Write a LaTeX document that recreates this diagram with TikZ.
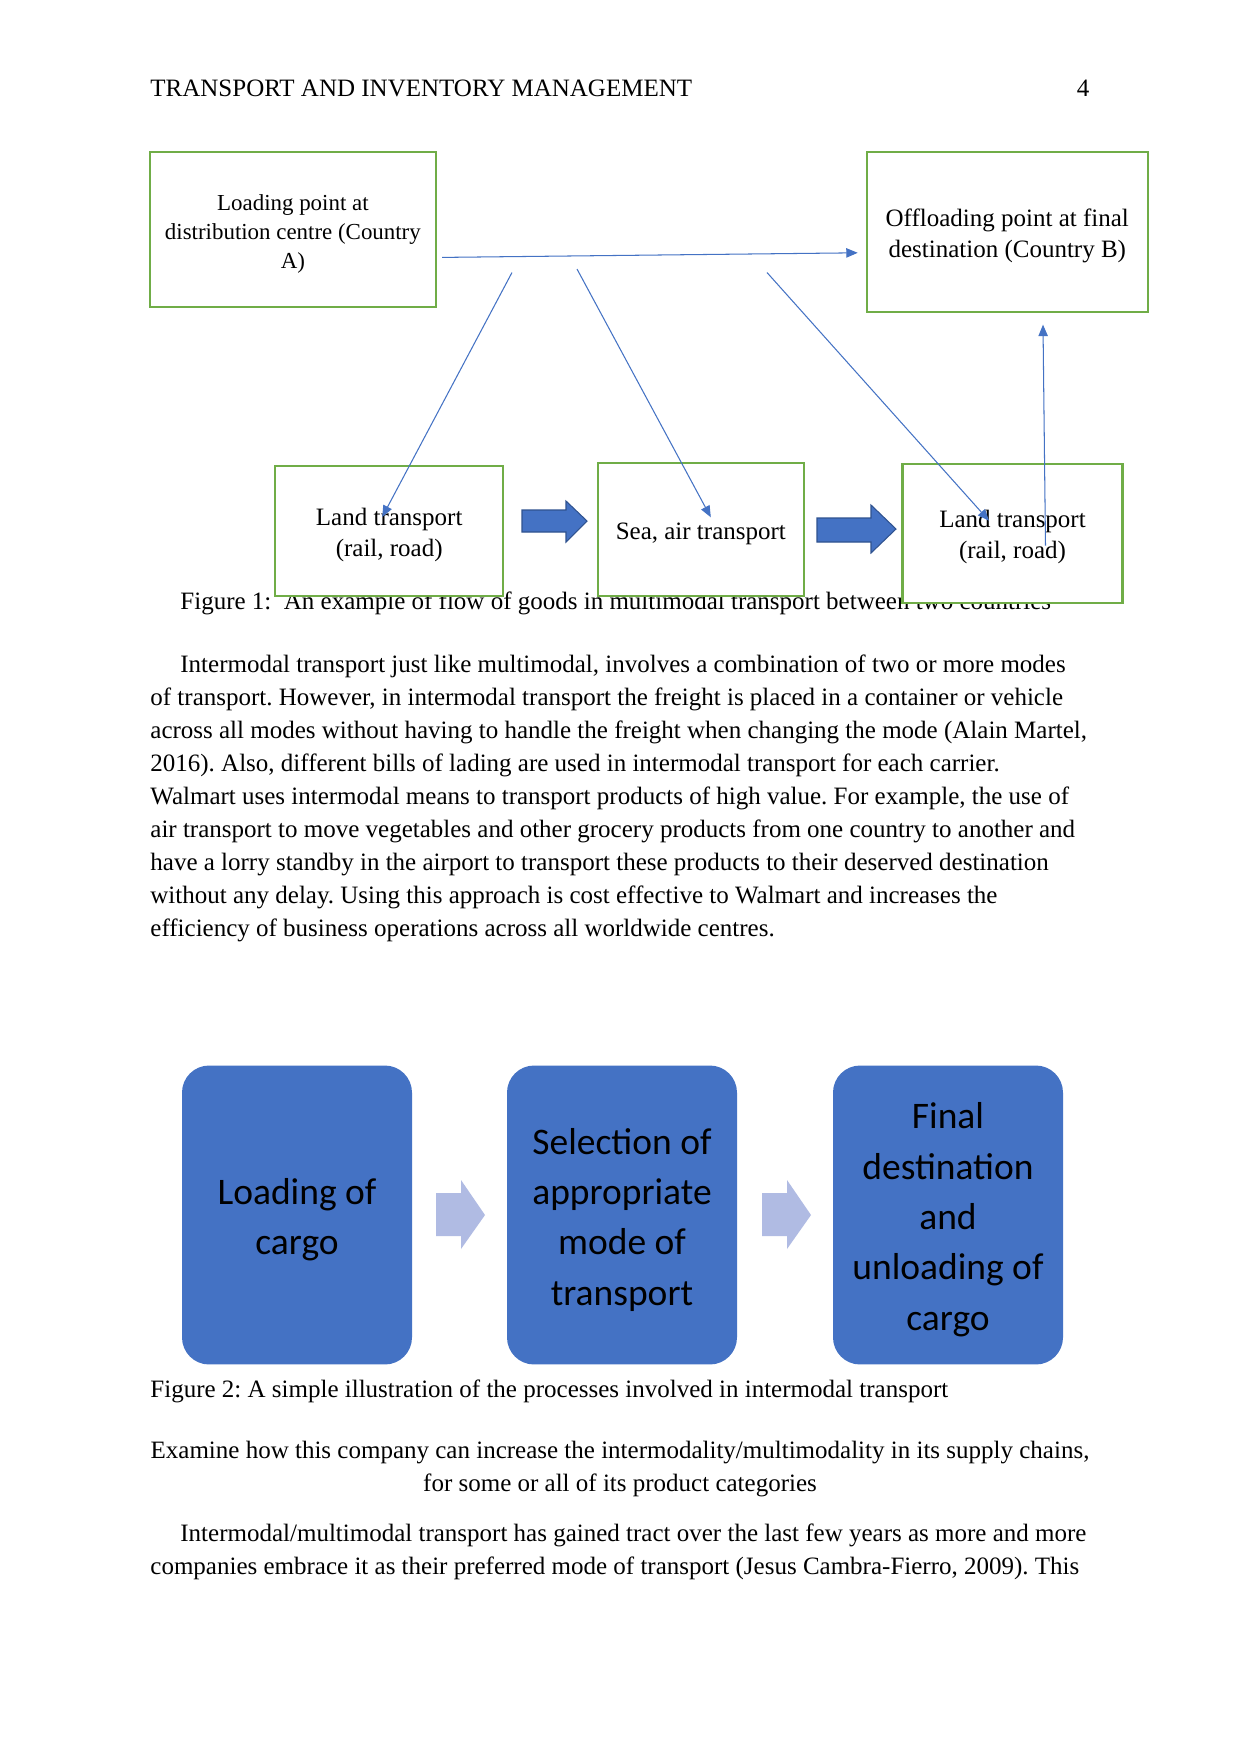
\documentclass[tikz,border=0pt]{standalone}
\usepackage{fontspec}
\setmainfont{Liberation Serif}
\newfontfamily\calibrifont{Carlito}
\usetikzlibrary{arrows.meta,calc}
\definecolor{accent}{HTML}{4472C4}
\definecolor{accentdark}{HTML}{2F528F}
\definecolor{leaf}{HTML}{70AD47}
\definecolor{haze}{HTML}{B0BBE3}
\frenchspacing
\newcommand{\boxlift}{\rule{0pt}{12pt}}
\newcommand{\steplift}{\rule{0pt}{17pt}}

\tikzset{
  greenbox/.style={draw=leaf,line width=1pt,fill=white,align=center,inner sep=2pt,font=\fontsize{12}{15}\selectfont},
  flowline/.style={draw=accent,line width=0.5pt,-{Triangle[length=5.5pt,width=4.5pt]}},
  bluestep/.style={fill=accent,rounded corners=13pt,align=center,inner sep=0pt,minimum width=110.4pt,minimum height=143.5pt,font=\calibrifont\fontsize{18}{24.2}\selectfont},
  bodytext/.style={inner sep=0pt,font=\fontsize{12}{15.84}\selectfont},
}

\begin{document}
\begin{tikzpicture}[x=0.48pt,y=-0.48pt]
\useasboundingbox[fill=white] (0,0) rectangle (1241,1754);

% running head
\node[bodytext,anchor=base west] (header) at (150,96) {TRANSPORT AND INVENTORY MANAGEMENT};
\node[bodytext,anchor=base] (pagenum) at (1083,96) {4};

% caption of figure 1 (partly hidden by the boxes)
\node[bodytext,anchor=base west] (cap1) at (180,609) {Figure 1:\ \ An example of flow of goods in multimodal transport between two countries};

% figure 1
\node[greenbox,minimum width=137.4pt,minimum height=74.5pt,font=\fontsize{11}{13.7}\selectfont] (loadA) at (292.9,229.4) {\boxlift Loading point at\\distribution centre (Country\\A)};
\node[greenbox,minimum width=134.9pt,minimum height=76.8pt,font=\fontsize{12}{14.9}\selectfont] (offB) at (1007.3,231.8) {\boxlift Offloading point at final\\destination (Country B)};
\node[greenbox,minimum width=109.3pt,minimum height=62.1pt] (land1) at (389.2,531) {\boxlift Land transport\\(rail, road)};
\node[greenbox,minimum width=98.7pt,minimum height=63.7pt] (seaair) at (700.8,529.3) {\boxlift Sea, air transport};
\node[greenbox,minimum width=105.6pt,minimum height=66.9pt] (land2) at (1012.5,533.3) {\boxlift Land transport\\(rail, road)};

\filldraw[fill=accent,draw=accentdark,line width=0.5pt] (522,510) -- (566,510) -- (566,501) -- (587,521) -- (566,542) -- (566,532) -- (522,532) -- cycle;
\filldraw[fill=accent,draw=accentdark,line width=0.5pt] (817,518) -- (871,518) -- (871,505) -- (896,529) -- (871,553) -- (871,542) -- (817,542) -- cycle;

\coordinate (fork1) at (512,272.5);
\coordinate (fork2) at (577,269);
\coordinate (fork3) at (767,272.5);
\draw[flowline] ([shift={(5,28)}]loadA.east) -- ([shift={(-8,21)}]offB.west);
\draw[flowline] (fork1) -- ([shift={(-7,-14)}]land1.center);
\draw[flowline] (fork2) -- ([shift={(10,-12)}]seaair.center);
\draw[flowline] (fork3) -- ([shift={(-23.5,-12.6)}]land2.center);
\draw[flowline] ([shift={(33,12.4)}]land2.center) -- ([shift={(35.7,11.8)}]offB.south);

% first paragraph
\node[bodytext,anchor=base west] (para1) at (180,672) {Intermodal transport just like multimodal, involves a combination of two or more modes};
\foreach \ln [count=\i] in {
  {of transport. However, in intermodal transport the freight is placed in a container or vehicle},
  {across all modes without having to handle the freight when changing the mode (Alain Martel,},
  {2016). Also, different bills of lading are used in intermodal transport for each carrier.},
  {Walmart uses intermodal means to transport products of high value. For example, the use of},
  {air transport to move vegetables and other grocery products from one country to another and},
  {have a lorry standby in the airport to transport these products to their deserved destination},
  {without any delay. Using this approach is cost effective to Walmart and increases the},
  {efficiency of business operations across all worldwide centres.}}
  \node[bodytext,anchor=base west] (para1l\i) at (150,672+33*\i) {\ln};

% figure 2
\node[bluestep] (cargoload) at (297,1215) {\steplift Loading of\\cargo};
\node[bluestep] (modesel) at (622,1215) {\steplift Selection of\\appropriate\\mode of\\transport};
\node[bluestep] (finaldest) at (948,1215) {\steplift Final\\destination\\and\\unloading of\\cargo};
\foreach \dx in {0,326}
  \fill[haze,shift={(\dx,0)}] (436,1193) -- (461,1193) -- (461,1180) -- (485,1215) -- (461,1249) -- (461,1236) -- (436,1236) -- cycle;

\node[bodytext,anchor=base west] (cap2) at (150,1397) {Figure 2: A simple illustration of the processes involved in intermodal transport};

% question heading
\node[bodytext,anchor=base] (question) at (620,1458) {Examine how this company can increase the intermodality/multimodality in its supply chains,};
\node[bodytext,anchor=base] (question2) at (620,1491) {for some or all of its product categories};

% second paragraph
\node[bodytext,anchor=base west] (para2) at (180,1541) {Intermodal/multimodal transport has gained tract over the last few years as more and more};
\node[bodytext,anchor=base west] (para2l1) at (150,1574) {companies embrace it as their preferred mode of transport (Jesus Cambra-Fierro, 2009). This};
\end{tikzpicture}
\end{document}
